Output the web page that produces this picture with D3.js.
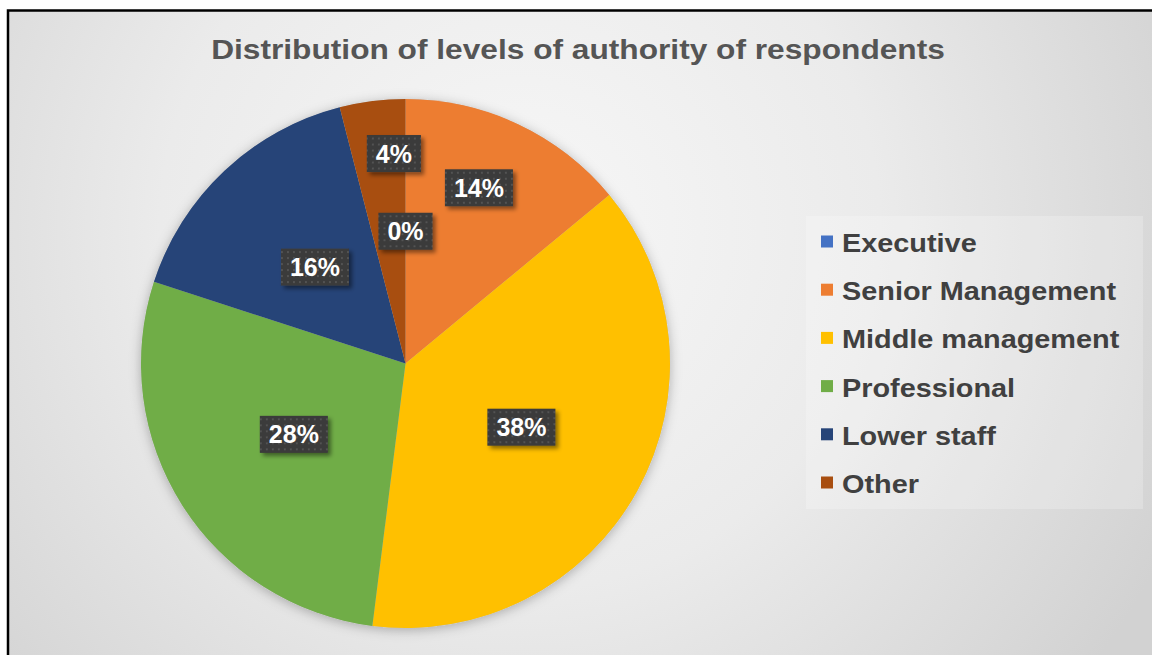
<!DOCTYPE html>
<html><head><meta charset="utf-8">
<script src="https://cdn.jsdelivr.net/npm/d3@7"></script>
<style>html,body{margin:0;padding:0;background:#fff;} svg{display:block}</style>
</head><body>
<svg id="chart" width="1152" height="655"></svg>
<script>
// Survey data: share of respondents by level of authority (%)
const categories = ["Executive", "Senior Management", "Middle management", "Professional", "Lower staff", "Other"];
const shares = [0, 14, 38, 28, 16, 4];
const colors = ["#4472C4", "#ED7D31", "#FFC000", "#70AD47", "#264478", "#A84E10"];
const chartTitle = "Distribution of levels of authority of respondents";

// Label placement: radius as a fraction of the pie radius and position along the slice (0..1)
const labelPlacement = {
  "Senior Management": { r: 0.72, t: 0.45 },
  "Other": { r: 0.795, t: 0.78 }
};

const W = 1152, H = 655;
const font = "'Liberation Sans', Arial, Helvetica, sans-serif";
const svg = d3.select("#chart");
const defs = svg.append("defs");

// background gradient
const bg = defs.append("radialGradient").attr("id", "bg")
  .attr("gradientUnits", "userSpaceOnUse")
  .attr("cx", 520).attr("cy", 230).attr("r", 720);
bg.append("stop").attr("offset", 0).attr("stop-color", "#f7f7f7");
bg.append("stop").attr("offset", 0.5).attr("stop-color", "#ebebeb");
bg.append("stop").attr("offset", 1).attr("stop-color", "#d2d2d2");

// soft shadow under the pie
const ps = defs.append("filter").attr("id", "pieShadow")
  .attr("x", "-20%").attr("y", "-20%").attr("width", "140%").attr("height", "140%");
ps.append("feDropShadow").attr("dx", 0).attr("dy", 2).attr("stdDeviation", 6)
  .attr("flood-color", "#000").attr("flood-opacity", 0.28);

// shadow under the value boxes
const ls = defs.append("filter").attr("id", "labelShadow")
  .attr("x", "-30%").attr("y", "-30%").attr("width", "160%").attr("height", "160%");
ls.append("feDropShadow").attr("dx", 3).attr("dy", 3).attr("stdDeviation", 2)
  .attr("flood-color", "#000").attr("flood-opacity", 0.45);

// dotted texture of the value boxes
const pat = defs.append("pattern").attr("id", "dots")
  .attr("patternUnits", "userSpaceOnUse").attr("width", 6).attr("height", 6);
pat.append("rect").attr("width", 6).attr("height", 6).attr("fill", "#3a3a3a");
pat.append("circle").attr("cx", 3).attr("cy", 3).attr("r", 0.9).attr("fill", "#5e5e5e");

// chart area with frame
svg.append("rect").attr("x", 8).attr("y", 10.5).attr("width", 1300).attr("height", 800)
  .attr("fill", "url(#bg)").attr("stroke", "#000").attr("stroke-width", 2.5);

// title, stretched to span 211..945
const titleText = svg.append("text")
  .attr("text-anchor", "middle")
  .attr("font-family", font).attr("font-weight", "bold").attr("font-size", 27)
  .attr("fill", "#555555")
  .text(chartTitle);
const tw = titleText.node().getComputedTextLength();
titleText.attr("transform", `translate(578,59) scale(${734 / tw},1)`);

// pie
const cx = 405.5, cy = 363.5, R = 264.5;
const data = categories.map((c, i) => ({ name: c, value: shares[i], color: colors[i] }));
const pie = d3.pie().sort(null).value(d => d.value).startAngle(0).endAngle(2 * Math.PI);
const arcs = pie(data);
const arc = d3.arc().innerRadius(0).outerRadius(R);

const g = svg.append("g").attr("transform", `translate(${cx},${cy})`);
g.append("circle").attr("r", R).attr("fill", "#bbb").attr("filter", "url(#pieShadow)");
g.selectAll("path.slice").data(arcs).enter().append("path")
  .attr("class", "slice")
  .attr("d", arc)
  .attr("fill", d => d.data.color);

// value labels
const labels = g.selectAll("g.lbl").data(arcs).enter().append("g").attr("class", "lbl")
  .attr("transform", d => {
    const p = labelPlacement[d.data.name] || { r: 0.5, t: 0.5 };
    const a = d.startAngle + (d.endAngle - d.startAngle) * p.t;
    const rr = R * p.r;
    return `translate(${rr * Math.sin(a)},${-rr * Math.cos(a)})`;
  });
labels.each(function(d) {
  const sel = d3.select(this);
  const txt = sel.append("text")
    .attr("text-anchor", "middle").attr("dy", "0.36em")
    .attr("font-family", font).attr("font-weight", "bold").attr("font-size", 25)
    .attr("fill", "#fff")
    .text(d3.format(".0f")(d.data.value) + "%");
  const w = txt.node().getComputedTextLength() + 18, h = 37;
  sel.insert("rect", "text")
    .attr("x", -w / 2).attr("y", -h / 2).attr("width", w).attr("height", h)
    .attr("fill", "url(#dots)").attr("filter", "url(#labelShadow)");
});

// legend
const legend = svg.append("g");
legend.append("rect").attr("x", 806).attr("y", 216).attr("width", 337).attr("height", 293)
  .attr("fill", "#fff").attr("fill-opacity", 0.22);
const rowY = d3.scalePoint().domain(categories).range([252, 493]);
const items = legend.selectAll("g.item").data(data).enter().append("g").attr("class", "item");
items.append("rect")
  .attr("x", 821).attr("y", d => rowY(d.name) - 16.5).attr("width", 12).attr("height", 12)
  .attr("fill", d => d.color);
items.append("text")
  .attr("transform", d => `translate(842,${rowY(d.name)}) scale(1.11,1)`)
  .attr("font-family", font).attr("font-weight", "bold").attr("font-size", 26)
  .attr("fill", "#404040")
  .text(d => d.name);
</script>
</body></html>
